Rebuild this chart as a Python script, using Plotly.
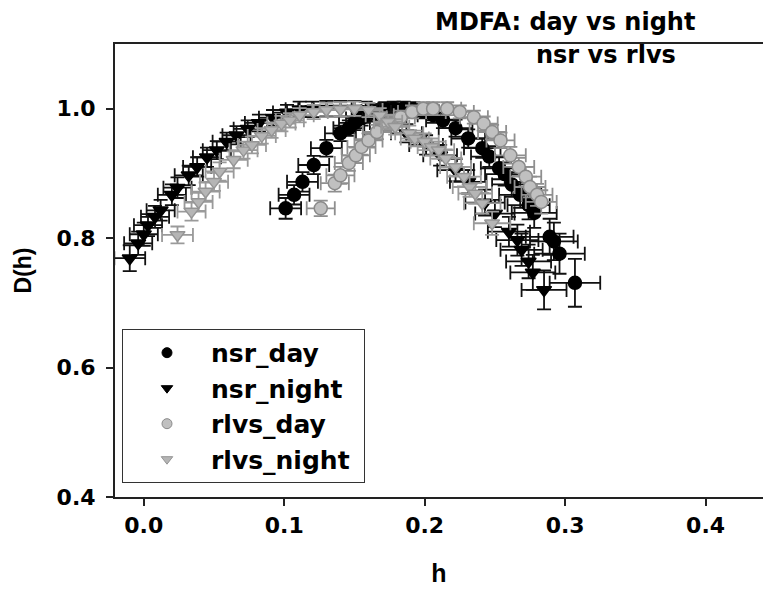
import plotly.graph_objects as go

# ---------------- data ----------------
nsr_day_h = [0.101, 0.107, 0.113, 0.121, 0.130, 0.140, 0.146, 0.150, 0.155, 0.160, 0.166, 0.172,
             0.178, 0.185, 0.192, 0.199, 0.206, 0.213, 0.222, 0.231, 0.241, 0.246, 0.253, 0.257,
             0.262, 0.268, 0.274, 0.278, 0.289, 0.292, 0.296, 0.307]
nsr_day_D = [0.846, 0.867, 0.887, 0.913, 0.939, 0.962, 0.970, 0.978, 0.985, 0.991, 0.996, 0.999,
             1.000, 1.000, 0.999, 0.996, 0.990, 0.982, 0.970, 0.954, 0.939, 0.926, 0.908, 0.899,
             0.883, 0.867, 0.851, 0.839, 0.802, 0.795, 0.776, 0.731]
nsr_day_eh = [0.011, 0.011, 0.011, 0.011, 0.011, 0.011, 0.011, 0.011, 0.011, 0.011, 0.011, 0.011,
              0.011, 0.011, 0.011, 0.011, 0.011, 0.012, 0.012, 0.012, 0.013, 0.013, 0.013, 0.014,
              0.014, 0.015, 0.015, 0.016, 0.017, 0.017, 0.018, 0.018]
nsr_day_eD = [0.016, 0.015, 0.015, 0.014, 0.013, 0.012, 0.012, 0.011, 0.011, 0.011, 0.011, 0.011,
              0.011, 0.011, 0.011, 0.011, 0.012, 0.012, 0.013, 0.014, 0.015, 0.016, 0.017, 0.018,
              0.019, 0.020, 0.022, 0.023, 0.028, 0.029, 0.031, 0.037]

nsr_night_h = [-0.010, -0.004, 0.000, 0.003, 0.008, 0.012, 0.020, 0.024, 0.032, 0.038, 0.045, 0.052,
               0.059, 0.066, 0.074, 0.082, 0.092, 0.102, 0.111, 0.120, 0.130, 0.140, 0.150, 0.158,
               0.166, 0.176, 0.187, 0.201, 0.211, 0.222, 0.231, 0.243, 0.250, 0.260, 0.266, 0.269,
               0.274, 0.277, 0.285]
nsr_night_D = [0.769, 0.792, 0.806, 0.820, 0.833, 0.843, 0.867, 0.878, 0.897, 0.910, 0.925, 0.936,
               0.949, 0.959, 0.969, 0.978, 0.986, 0.994, 0.999, 0.999, 1.000, 1.000, 1.000, 0.999,
               0.995, 0.982, 0.962, 0.944, 0.928, 0.905, 0.887, 0.855, 0.838, 0.810, 0.797, 0.782,
               0.764, 0.747, 0.720]
nsr_night_eh = [0.011, 0.010, 0.010, 0.010, 0.010, 0.010, 0.010, 0.010, 0.010, 0.010, 0.010, 0.010,
                0.010, 0.010, 0.010, 0.010, 0.010, 0.010, 0.010, 0.010, 0.010, 0.010, 0.010, 0.010,
                0.010, 0.011, 0.011, 0.012, 0.012, 0.013, 0.013, 0.014, 0.014, 0.015, 0.015, 0.015,
                0.016, 0.016, 0.016]
nsr_night_eD = [0.020, 0.018, 0.018, 0.017, 0.017, 0.016, 0.016, 0.016, 0.015, 0.015, 0.015, 0.014,
                0.014, 0.014, 0.013, 0.013, 0.012, 0.012, 0.012, 0.012, 0.012, 0.012, 0.012, 0.012,
                0.012, 0.013, 0.014, 0.015, 0.016, 0.017, 0.018, 0.020, 0.021, 0.023, 0.024, 0.025,
                0.026, 0.027, 0.030]

rlvs_day_h = [0.126, 0.136, 0.140, 0.146, 0.151, 0.155, 0.160, 0.166, 0.174, 0.183, 0.191, 0.199,
              0.206, 0.216, 0.225, 0.235, 0.242, 0.248, 0.254, 0.261, 0.267, 0.272, 0.275, 0.280,
              0.283]
rlvs_day_D = [0.846, 0.885, 0.897, 0.916, 0.928, 0.941, 0.951, 0.964, 0.977, 0.987, 0.995, 1.000,
              1.000, 1.000, 0.995, 0.987, 0.977, 0.964, 0.951, 0.928, 0.910, 0.895, 0.879, 0.867,
              0.856]
rlvs_day_eh = [0.010, 0.010, 0.010, 0.010, 0.010, 0.010, 0.010, 0.010, 0.010, 0.010, 0.010, 0.010,
               0.010, 0.010, 0.010, 0.010, 0.010, 0.010, 0.010, 0.011, 0.011, 0.011, 0.011, 0.011,
               0.011]
rlvs_day_eD = [0.012, 0.013, 0.013, 0.012, 0.012, 0.012, 0.011, 0.011, 0.011, 0.010, 0.010, 0.010,
               0.010, 0.010, 0.010, 0.010, 0.011, 0.011, 0.012, 0.013, 0.014, 0.015, 0.016, 0.017,
               0.018]

rlvs_night_h = [0.024, 0.034, 0.039, 0.044, 0.050, 0.054, 0.064, 0.071, 0.077, 0.084, 0.091, 0.098,
                0.104, 0.111, 0.121, 0.130, 0.140, 0.150, 0.160, 0.168, 0.174, 0.179, 0.189, 0.193,
                0.200, 0.205, 0.210, 0.215, 0.222, 0.228, 0.232, 0.236, 0.241, 0.248]
rlvs_night_D = [0.805, 0.841, 0.856, 0.872, 0.887, 0.903, 0.921, 0.936, 0.944, 0.958, 0.967, 0.977,
                0.982, 0.990, 0.995, 0.998, 0.999, 1.000, 0.998, 0.990, 0.980, 0.972, 0.962, 0.954,
                0.949, 0.941, 0.936, 0.923, 0.910, 0.895, 0.879, 0.869, 0.854, 0.823]
rlvs_night_eh = [0.011, 0.010, 0.010, 0.010, 0.010, 0.010, 0.010, 0.010, 0.010, 0.010, 0.010, 0.010,
                 0.010, 0.010, 0.010, 0.010, 0.010, 0.010, 0.010, 0.010, 0.010, 0.010, 0.010, 0.010,
                 0.010, 0.010, 0.011, 0.011, 0.011, 0.012, 0.012, 0.012, 0.013, 0.013]
rlvs_night_eD = [0.013, 0.014, 0.014, 0.014, 0.014, 0.014, 0.013, 0.013, 0.013, 0.012, 0.012, 0.012,
                 0.011, 0.011, 0.011, 0.011, 0.011, 0.011, 0.011, 0.011, 0.011, 0.012, 0.012, 0.012,
                 0.013, 0.013, 0.013, 0.014, 0.014, 0.015, 0.015, 0.016, 0.016, 0.018]

series_names = ["nsr_day", "nsr_night", "rlvs_day", "rlvs_night"]
x_ticks = [0.0, 0.1, 0.2, 0.3, 0.4]
y_ticks = [0.4, 0.6, 0.8, 1.0]
title_line1 = "MDFA: day vs night"
title_line2 = "nsr vs rlvs"

# ---------------- figure ----------------
WIDE = "DejaVu Sans, Verdana, sans-serif"
ARIAL = "Liberation Sans, Arial, sans-serif"
styles = [
    dict(symbol="circle", color="#000000", line="#000000", err="#111111"),
    dict(symbol="triangle-down", color="#000000", line="#000000", err="#111111"),
    dict(symbol="circle", color="#c0c0c0", line="#8a8a8a", err="#8f8f8f"),
    dict(symbol="triangle-down", color="#b5b5b5", line="#959595", err="#9a9a9a"),
]
data = [
    (nsr_day_h, nsr_day_D, nsr_day_eh, nsr_day_eD),
    (nsr_night_h, nsr_night_D, nsr_night_eh, nsr_night_eD),
    (rlvs_day_h, rlvs_day_D, rlvs_day_eh, rlvs_day_eD),
    (rlvs_night_h, rlvs_night_D, rlvs_night_eh, rlvs_night_eD),
]

fig = go.Figure()
for name, st, (hx, dy, ex, ey) in zip(series_names, styles, data):
    fig.add_trace(go.Scatter(
        x=hx, y=dy, mode="markers", name=name, showlegend=False,
        marker=dict(symbol=st["symbol"], size=13, color=st["color"],
                    line=dict(color=st["line"], width=1.5)),
        error_x=dict(type="data", array=ex, visible=True, color=st["err"], thickness=1.8, width=7),
        error_y=dict(type="data", array=ey, visible=True, color=st["err"], thickness=1.8, width=7),
    ))
# legend entries
for i, (name, st) in enumerate(zip(series_names, styles)):
    fig.add_trace(go.Scatter(
        x=[None], y=[None], mode="markers", name=name + "&nbsp;", legendgroup=name,
        marker=dict(symbol=st["symbol"], size=10, color=st["color"],
                    line=dict(color=st["line"], width=1)),
    ))

fig.update_layout(
    width=763, height=589, autosize=False,
    margin=dict(l=115, r=0, t=44, b=92, autoexpand=False),
    paper_bgcolor="white", plot_bgcolor="white",
    font=dict(family=WIDE, size=22, color="#000000"),
    showlegend=True,
    legend=dict(x=0.0108, y=0.371, xanchor="left", yanchor="top",
                bgcolor="white", bordercolor="#333333", borderwidth=1,
                font=dict(family=WIDE, size=25, color="#000000", weight="bold"),
                itemwidth=78, tracegroupgap=0),
    xaxis=dict(range=[-0.0205, 0.4409], tickvals=x_ticks, ticktext=["%.1f" % v for v in x_ticks],
               automargin=False,
               showgrid=False, zeroline=False, showline=True, linecolor="#222222", linewidth=2,
               mirror=True, ticks="outside", ticklen=7, tickwidth=1.5, tickcolor="#222222",
               ticklabelstandoff=1,
               tickfont=dict(family=WIDE, size=22, weight="bold"),
               title=dict(text="<b>h</b>", font=dict(family=ARIAL, size=25), standoff=27)),
    yaxis=dict(range=[0.4, 1.1], tickvals=y_ticks, ticktext=["%.1f" % v for v in y_ticks],
               automargin=False,
               showgrid=False, zeroline=False, showline=True, linecolor="#222222", linewidth=2,
               ticks="outside", ticklen=7, tickwidth=1.5, tickcolor="#222222",
               ticklabelstandoff=6,
               tickfont=dict(family=WIDE, size=22, weight="bold"),
               title=dict(text="<b>D(h)</b>", font=dict(family=ARIAL, size=23), standoff=19)),
    annotations=[
        dict(text="<b>" + title_line1 + "</b>", xref="paper", yref="paper", x=0.694, y=1.049,
             xanchor="center", yanchor="middle", showarrow=False,
             font=dict(family=WIDE, size=24, color="#000000")),
        dict(text="<b>" + title_line2 + "</b>", xref="paper", yref="paper", x=0.758, y=0.976,
             xanchor="center", yanchor="middle", showarrow=False,
             font=dict(family=WIDE, size=24, color="#000000")),
    ],
)

fig.write_html("out.html", config={"responsive": False, "displayModeBar": False})

# remove the browser's default page margin so the 763x589 figure fills the window
with open("out.html", "r", encoding="utf-8") as f:
    html = f.read()
html = html.replace("<body>", "<body style=\"margin:0;padding:0;overflow:hidden\">", 1)
with open("out.html", "w", encoding="utf-8") as f:
    f.write(html)
